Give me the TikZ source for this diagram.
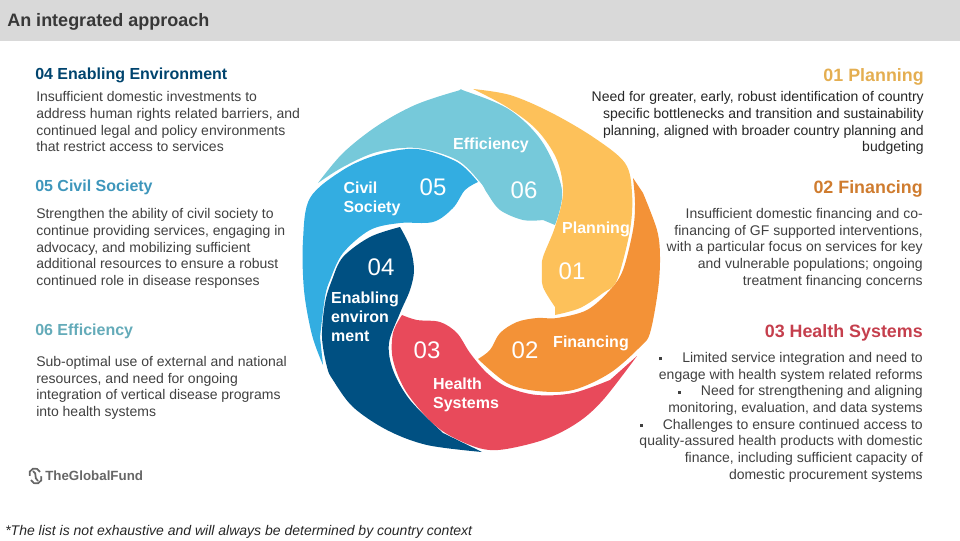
\documentclass[tikz,border=0pt]{standalone}
\usepackage{fontspec}
\setmainfont{Liberation Sans}
\usetikzlibrary{positioning}
\definecolor{effblue}{HTML}{76C9DA}
\definecolor{civblue}{HTML}{33ADE1}
\definecolor{envblue}{HTML}{005082}
\definecolor{healred}{HTML}{E84A5B}
\definecolor{finorange}{HTML}{F39237}
\definecolor{planyellow}{HTML}{FDC15A}
\definecolor{bodygrey}{HTML}{404040}
\tikzset{
	petal/.style={fill=#1, draw=none},
	wedge label/.style={font=\fontsize{12}{14.2}\selectfont\bfseries, text=white, inner sep=0pt, align=left},
	wedge number/.style={font=\fontsize{18}{20}\selectfont, text=white, inner sep=0pt},
	head left/.style={font=\fontsize{12}{14}\selectfont\bfseries, anchor=west, inner sep=0pt},
	head right/.style={font=\fontsize{13.4}{15}\selectfont\bfseries, anchor=east, inner sep=0pt},
	body left/.style={font=\fontsize{10.5}{12.5}\selectfont, text=bodygrey, anchor=north west, align=left, inner sep=0pt},
	body right/.style={font=\fontsize{10.5}{12.5}\selectfont, text=bodygrey, anchor=north east, align=right, inner sep=0pt}
}
\newcommand{\sqbullet}[1]{\rule[1.6pt]{2.2pt}{2.2pt}\hspace{#1}}
\newcommand{\petalpath}[3]{\fill[petal=#1] plot[smooth,tension=.55] coordinates {#2} -- plot[smooth,tension=.55] coordinates {#3} -- cycle;}
\begin{document}
\begin{tikzpicture}[x=.75pt, y=-.75pt]
	\useasboundingbox (0,0) rectangle (960,540);
	\fill[black!15] (0,0) rectangle (960,41);
	\node[font=\fontsize{13.5}{15}\selectfont\bfseries, text=black!78, anchor=west, inner sep=0pt] (title) at (7,22) {An integrated approach};

	% wheel
	\petalpath{effblue}{(318,183) (343,153) (377,126) (415,105) (457,91) (465,91) (510,110) (543,143) (562,190) (555,225)}
		{(543,220) (523,220) (500,210) (487,193) (480,182) (457,160) (417,148) (377,152) (343,167) (318,183)}
	\petalpath{civblue}{(478,182) (457,162) (417,149) (377,155) (343,170) (310,198) (303,240) (304,290) (312,335) (323,365)}
		{(320,337) (325,297) (330,280) (343,253) (370,230) (400,223) (433,222) (453,208) (465,190) (478,182)}
	\petalpath{envblue}{(400,227) (370,237) (343,257) (332,280) (325,303) (322,337) (327,367) (333,380) (353,407) (387,430) (427,445) (482,452)}
		{(443,433) (410,400) (393,370) (389,343) (400,313) (410,290) (414,270) (410,247) (400,227)}
	\petalpath{healred}{(402,315) (393,333) (393,360) (407,393) (437,427) (470,445) (498,450) (543,440) (577,423) (603,400) (637,356)}
		{(610,380) (573,393) (537,395) (507,387) (487,373) (470,353) (457,333) (440,322) (417,320) (402,315)}
	\petalpath{finorange}{(478,359) (490,350) (500,333) (517,322) (537,318) (557,318) (587,310) (610,290) (623,270) (633,230) (635,203) (633,178)}
		{(643,193) (657,230) (660,257) (658,290) (650,333) (640,347) (610,373) (573,390) (537,391) (507,383) (478,359)}
	\petalpath{planyellow}{(473,89) (510,95) (550,112) (593,137) (625,163) (632,193) (630,230) (617,280) (603,293) (580,308) (555,315)}
		{(555,307) (543,287) (542,270) (543,257) (555,227) (563,193) (557,160) (537,130) (507,107) (473,89)}

	\node[wedge label] (eff_label) at (491,145) {Efficiency};
	\node[wedge label] (civ_label) at (372,199) {Civil\\Society};
	\node[wedge label] (plan_label) at (596,229) {Planning};
	\node[wedge label] (env_label) at (365,317) {Enabling\\environ\\ment};
	\node[wedge label] (fin_label) at (591,343) {Financing};
	\node[wedge label] (heal_label) at (466,395) {Health\\Systems};
	\node[wedge number] (num_five) at (433,187) {05};
	\node[wedge number] (num_six) at (524,190) {06};
	\node[wedge number] (num_four) at (381,267) {04};
	\node[wedge number] (num_one) at (572,271) {01};
	\node[wedge number] (num_three) at (427,350) {03};
	\node[wedge number] (num_two) at (525,350) {02};

	% left column
	\node[head left, text=envblue!85!black] (env_head) at (35,75) {04 Enabling Environment};
	\node[body left] (env_text) at (36,91.5) {Insufficient domestic investments to\\address human rights related barriers, and\\continued legal and policy environments\\that restrict access to services};
	\node[head left, text=civblue!80!black!90] (civ_head) at (35,187) {05 Civil Society};
	\node[body left] (civ_text) at (36,208.5) {Strengthen the ability of civil society to\\continue providing services, engaging in\\advocacy, and mobilizing sufficient\\additional resources to ensure a robust\\continued role in disease responses};
	\node[head left, text=effblue!85!black] (eff_head) at (35,331) {06 Efficiency};
	\node[body left] (eff_text) at (36,356) {Sub-optimal use of external and national\\resources, and need for ongoing\\integration of vertical disease programs\\into health systems};

	% right column
	\node[head right, text=planyellow!90!black] (plan_head) at (924,77) {01 Planning};
	\node[body right, text=black!85] (plan_text) at (924,91.5) {Need for greater, early, robust identification of country\\specific bottlenecks and transition and sustainability\\planning, aligned with broader country planning and\\budgeting};
	\node[head right, text=finorange!85!black] (fin_head) at (923,189) {02 Financing};
	\node[body right] (fin_text) at (923,208) {Insufficient domestic financing and co-\\financing of GF supported interventions,\\with a particular focus on services for key\\and vulnerable populations; ongoing\\treatment financing concerns};
	\node[head right, text=healred!85!black] (heal_head) at (923,333) {03 Health Systems};
	\node[body right] (heal_text) at (923,352) {\sqbullet{15pt}Limited service integration and need to\\engage with health system related reforms\\\sqbullet{15pt}Need for strengthening and aligning\\monitoring, evaluation, and data systems\\\sqbullet{15pt}Challenges to ensure continued access to\\quality-assured health products with domestic\\finance, including sufficient capacity of\\domestic procurement systems};

	% footer
	\draw[black!60, line width=1.3pt] (40,472) arc (-20:-200:5.5) (31,480) arc (160:-20:5.5);
	\draw[black!60, line width=1.3pt] (33,471) .. controls (38,474) and (33,477) .. (38,481);
	\node[font=\fontsize{10}{11}\selectfont\bfseries, text=black!60, anchor=west, inner sep=0pt] (logo) at (45,476) {TheGlobalFund};
	\node[font=\fontsize{10.5}{12}\selectfont\itshape, text=black!85, anchor=west, inner sep=0pt] (footnote) at (5,532) {*The list is not exhaustive and will always be determined by country context};
\end{tikzpicture}
\end{document}
